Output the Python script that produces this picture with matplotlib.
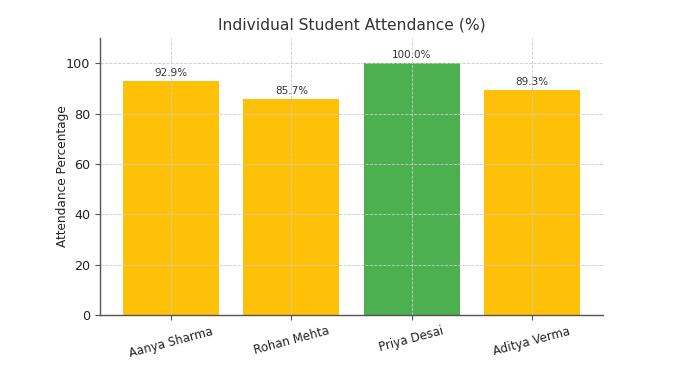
import matplotlib
matplotlib.use("Agg")
import matplotlib.pyplot as plt

students = ["Aanya Sharma", "Rohan Mehta", "Priya Desai", "Aditya Verma"]
attendance = [92.9, 85.7, 100.0, 89.3]
colors = ["#FFC107", "#FFC107", "#4CAF50", "#FFC107"]

fig = plt.figure(figsize=(6.76, 3.71), dpi=100)
ax = fig.add_axes([100/676, 56/371, 503/676, 277/371])

bars = ax.bar(students, attendance, color=colors, width=0.8)
for b, v in zip(bars, attendance):
    ax.text(b.get_x() + b.get_width()/2, v + 1.2, f"{v:.1f}%", ha="center", va="bottom",
            fontsize=7.5, color="#333333")

ax.set_ylim(0, 110)
ax.set_title("Individual Student Attendance (%)", fontsize=11.2, color="#333333")
ax.set_ylabel("Attendance Percentage", fontsize=8.7, color="#222222", labelpad=-2)
ax.grid(True, linestyle="--", color="#cccccc", linewidth=0.6)
for s in ["top", "right"]:
    ax.spines[s].set_visible(False)
for s in ["left", "bottom"]:
    ax.spines[s].set_color("#555555")
    ax.spines[s].set_linewidth(1.0)
ax.tick_params(axis="x", labelsize=8.5, rotation=15, colors="#555555", labelcolor="#222222")
ax.tick_params(axis="y", labelsize=9.2, colors="#555555", labelcolor="#222222")

fig.savefig("out.png", dpi=100)
